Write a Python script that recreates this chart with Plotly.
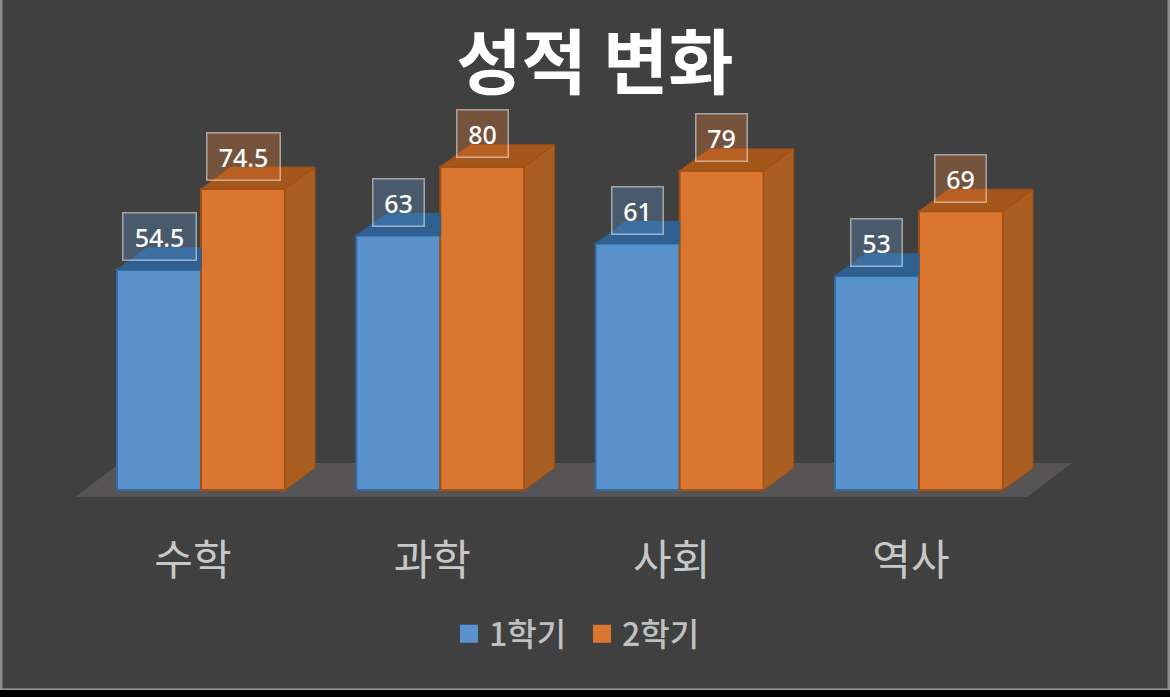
import plotly.graph_objects as go

categories = ["수학", "과학", "사회", "역사"]
series_names = ["1학기", "2학기"]
term1 = [54.5, 63, 61, 53]
term2 = [74.5, 80, 79, 69]

BG = "#404040"
BLUE, BLUE_EDGE, BLUE_TOP = "#5A93CB", "#2F6DA8", "#2F608F"
ORANGE, ORANGE_EDGE, ORANGE_SIDE, ORANGE_TOP = "#DB7631", "#A24F12", "#AA5E22", "#A5561B"
KR = "Noto Sans CJK KR"

W, H, PLOT_B = 1170, 697, 500
UNIT_X, UNIT_Y = 239.33, 4.04      # pixels per category / per value
X0, Y0 = 201, 490                  # pixel position of the first category / of value 0
BAR_W = 84 / UNIT_X
DX, DY = 30 / UNIT_X, 22 / UNIT_Y  # depth of the 3-D extrusion


def fx(p):
    return (p - X0) / UNIT_X


def fy(p):
    return (Y0 - p) / UNIT_Y


def paper_x(p):
    return p / W


def paper_y(p):
    return 1 - p / PLOT_B


idx = list(range(len(categories)))
fig = go.Figure()

for name, vals, off, col, edge in [
    (series_names[0], term1, -BAR_W, BLUE, BLUE_EDGE),
    (series_names[1], term2, 0, ORANGE, ORANGE_EDGE),
]:
    fig.add_trace(go.Bar(
        x=idx, y=vals, name=name, width=BAR_W, offset=off, showlegend=False,
        marker=dict(color=col, line=dict(color=edge, width=2)), hoverinfo="name+y",
    ))


def poly_trace(xs, ys, fill, edge):
    return go.Scatter(x=xs, y=ys, mode="lines", fill="toself", fillcolor=fill,
                      line=dict(color=edge, width=1), showlegend=False, hoverinfo="skip")


# blue tops, stopping where the orange front face starts
bx, by = [], []
for i, v in zip(idx, term1):
    bx += [i - BAR_W, i, i, i - BAR_W + DX, i - BAR_W, None]
    by += [v, v, v + DY, v + DY, v, None]
fig.add_trace(poly_trace(bx, by, BLUE_TOP, BLUE_TOP))

# orange tops and sides
tx, ty, sx, sy = [], [], [], []
for i, v in zip(idx, term2):
    tx += [i, i + BAR_W, i + BAR_W + DX, i + DX, i, None]
    ty += [v, v, v + DY, v + DY, v, None]
    sx += [i + BAR_W, i + BAR_W + DX, i + BAR_W + DX, i + BAR_W, i + BAR_W, None]
    sy += [0, DY, v + DY, v, 0, None]
fig.add_trace(poly_trace(sx, sy, ORANGE_SIDE, ORANGE_EDGE))
fig.add_trace(poly_trace(tx, ty, ORANGE_TOP, ORANGE_EDGE))

# legend entries
for name, col in [(series_names[0], BLUE), (series_names[1], ORANGE)]:
    fig.add_trace(go.Scatter(
        x=[None], y=[None], mode="markers", name=name,
        marker=dict(symbol="square", size=16, color=col, line=dict(color=col, width=2)),
    ))

annotations = []
for vals, off, fill in [
    (term1, -BAR_W / 2, "rgba(90,147,203,0.32)"),
    (term2, BAR_W / 2, "rgba(219,118,49,0.34)"),
]:
    for i, v in zip(idx, vals):
        label = f"{v:g}"
        annotations.append(dict(
            x=i + off, y=v, xref="x", yref="y", text=label, showarrow=False,
            yshift=33, xanchor="center", yanchor="middle",
            width=11 * len(label) + 28, height=46, borderpad=0,
            bgcolor=fill, bordercolor="rgba(255,255,255,0.5)", borderwidth=1.5,
            font=dict(family="Noto Sans", size=25, color="#FFFFFF", weight=500),
        ))

floor = dict(
    type="path", layer="below", xref="x", yref="y", line=dict(width=0), fillcolor="#565454",
    path=(f"M{fx(75)},{fy(497)} L{fx(1027)},{fy(497)} L{fx(1072)},{fy(463)} "
          f"L{fx(120)},{fy(463)} Z"),
)


def frame(x0, y0, x1, y1, color):
    return dict(type="rect", layer="above", xref="paper", yref="paper", line=dict(width=0),
                fillcolor=color, x0=paper_x(x0), x1=paper_x(x1), y0=paper_y(y0), y1=paper_y(y1))


frames = [
    frame(0, 0, 2.5, 690, "#8A8A8A"),
    frame(1167.5, 0, 1170, 690, "#8A8A8A"),
    frame(0, 688.5, 1170, 690, "#9A9A9A"),
    frame(0, 690, 1170, 697, "#000000"),
]

fig.update_layout(
    width=W, height=H, autosize=False, barmode="overlay",
    margin=dict(l=0, r=0, t=0, b=H - PLOT_B, pad=0),
    paper_bgcolor=BG, plot_bgcolor=BG,
    title=dict(text="<b>성적 변화</b>", x=paper_x(595), xanchor="center", xref="paper",
               y=1 - 63 / H, yref="container", yanchor="middle",
               font=dict(family=KR, size=71, color="#FFFFFF")),
    xaxis=dict(range=[fx(0), fx(W)], tickmode="array", tickvals=idx, ticktext=categories,
               showgrid=False, zeroline=False, showline=False, ticks="",
               ticklabelstandoff=32, ticklabelshift=-8,
               tickfont=dict(family=KR, size=42, color="#C8C8C8")),
    yaxis=dict(range=[fy(PLOT_B), fy(0)], visible=False),
    legend=dict(orientation="h", x=paper_x(449), xanchor="left", y=paper_y(634),
                yanchor="middle", bgcolor="rgba(0,0,0,0)", itemclick=False,
                entrywidth=88, entrywidthmode="pixels",
                font=dict(family=KR, size=32, color="#C0C0C0", weight=500)),
    annotations=annotations,
    shapes=[floor] + frames,
)

fig.write_html("out.html", config=dict(displayModeBar=False),
               post_script="document.body.style.margin='0';document.body.style.overflow='hidden';")
